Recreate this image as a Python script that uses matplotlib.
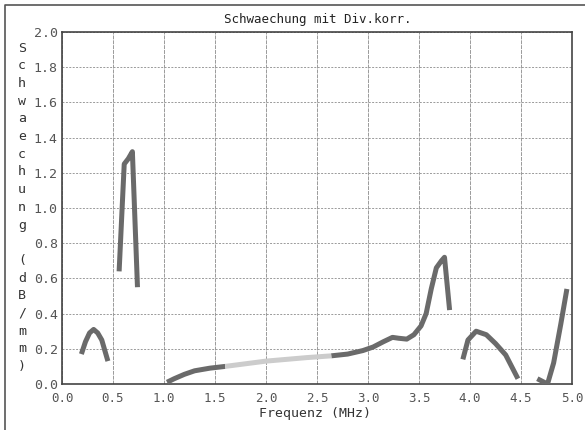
import matplotlib.pyplot as plt
from matplotlib.lines import Line2D

f1 = [0.19, 0.23, 0.27, 0.31, 0.35, 0.39, 0.45]
a1 = [0.17, 0.24, 0.29, 0.31, 0.29, 0.25, 0.13]

f2 = [0.56, 0.61, 0.65, 0.69, 0.74]
a2 = [0.64, 1.25, 1.28, 1.32, 0.55]

f3 = [1.03, 1.10, 1.20, 1.30, 1.45, 1.60]
a3 = [0.01, 0.03, 0.055, 0.075, 0.09, 0.10]

f4 = [1.60, 1.80, 2.00, 2.20, 2.40, 2.64]   # heller Abschnitt
a4 = [0.10, 0.115, 0.13, 0.14, 0.15, 0.16]

f5 = [2.64, 2.80, 2.95, 3.05, 3.15, 3.24, 3.30, 3.38, 3.45, 3.52, 3.57, 3.62, 3.67, 3.72, 3.75, 3.80]
a5 = [0.16, 0.17, 0.19, 0.21, 0.24, 0.265, 0.26, 0.255, 0.28, 0.33, 0.40, 0.54, 0.66, 0.70, 0.72, 0.42]

f6 = [3.93, 3.98, 4.06, 4.16, 4.25, 4.35, 4.47]
a6 = [0.14, 0.25, 0.30, 0.28, 0.23, 0.165, 0.03]

f7 = [4.66, 4.76, 4.82, 4.89, 4.95]
a7 = [0.03, 0.0, 0.12, 0.34, 0.54]

xticks = [0.0, 0.5, 1.0, 1.5, 2.0, 2.5, 3.0, 3.5, 4.0, 4.5, 5.0]
yticks = [0.0, 0.2, 0.4, 0.6, 0.8, 1.0, 1.2, 1.4, 1.6, 1.8, 2.0]

dunkel = '#6a6a6a'
hell = '#cccccc'
schrift = 'DejaVu Sans Mono'

fig = plt.figure(figsize=(5.85, 4.30), dpi=100)
ax = fig.add_axes([62 / 585, 46 / 430, 510 / 585, 352 / 430])

for f, a in [(f1, a1), (f2, a2), (f3, a3), (f5, a5), (f6, a6), (f7, a7)]:
    ax.plot(f, a, color=dunkel, lw=3.6, solid_capstyle='butt', zorder=3)
ax.plot(f4, a4, color=hell, lw=3.6, solid_capstyle='butt', zorder=3)

ax.set_xlim(0, 5)
ax.set_ylim(0, 2)
ax.set_xticks(xticks)
ax.set_yticks(yticks)
ax.set_xticklabels(['%.1f' % v for v in xticks], family=schrift, fontsize=9, color='#555555')
ax.set_yticklabels(['%.1f' % v for v in yticks], family=schrift, fontsize=9.5, color='#555555')
ax.tick_params(length=0, pad=3)
ax.tick_params(axis='x', pad=6)
ax.grid(True, axis='y', color='#9a9a9a', linestyle=(0, (2, 1.5)), lw=0.7)
ax.grid(True, axis='x', color='#9a9a9a', linestyle=(0, (4, 1)), lw=0.7)
for s in ax.spines.values():
    s.set_color('#444444')
    s.set_linewidth(1.2)

fig.text(318 / 585, 1 - 20 / 430, 'Schwaechung mit Div.korr.', family=schrift,
         fontsize=9, ha='center', va='center', color='#222222')
fig.text(315 / 585, 1 - 413 / 430, 'Frequenz (MHz)', family=schrift,
         fontsize=9.5, ha='center', va='center', color='#333333')

# senkrechte Achsenbeschriftung, Buchstabe fuer Buchstabe
ylabel = 'Schwaechung (dB/mm)'
for i, ch in enumerate(ylabel):
    fig.text(22 / 585, 1 - (48 + i * 17.7) / 430, ch, family=schrift,
             fontsize=9.5, ha='center', va='center', color='#333333')

# Rahmen (nur oben und links sichtbar)
fig.lines.append(Line2D([5 / 585, 5 / 585, 1], [0, 1 - 5 / 430, 1 - 5 / 430],
                        transform=fig.transFigure, color='#555555', lw=1.2))

fig.savefig('out.png', dpi=100)
